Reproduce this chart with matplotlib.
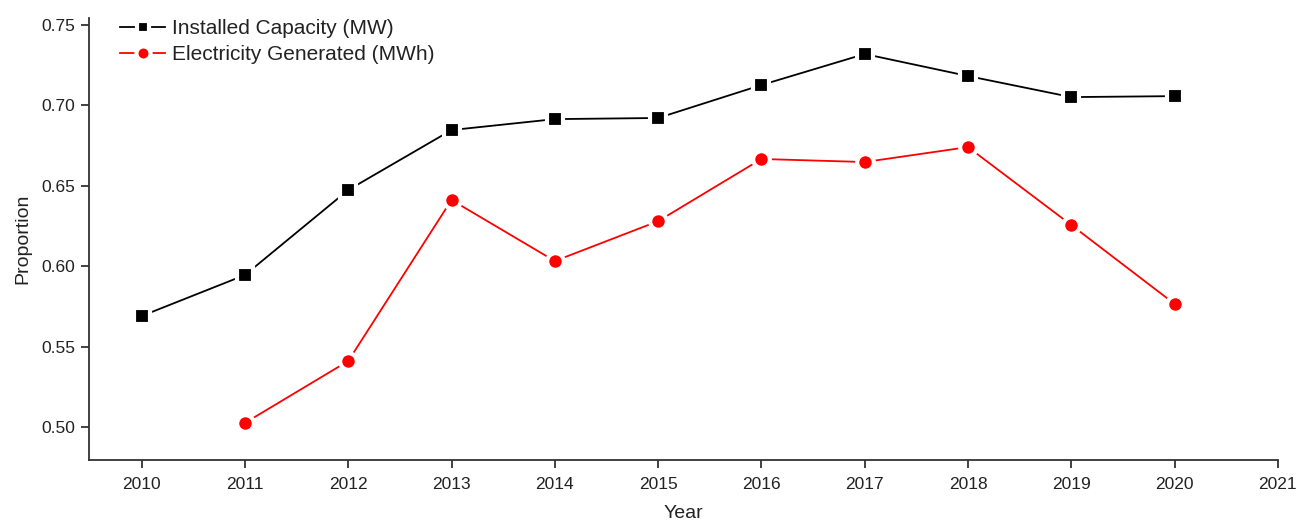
import matplotlib.pyplot as plt

plt.rcParams['font.family'] = ['Liberation Sans', 'DejaVu Sans']

# --- Data ---
years_cap = [2010, 2011, 2012, 2013, 2014, 2015, 2016, 2017, 2018, 2019, 2020]
installed_capacity = [0.569, 0.5945, 0.6474, 0.6847, 0.6915, 0.6922, 0.7127, 0.7320, 0.7183, 0.7052, 0.7058]

years_gen = [2011, 2012, 2013, 2014, 2015, 2016, 2017, 2018, 2019, 2020]
electricity_generated = [0.5025, 0.541, 0.6412, 0.6032, 0.628, 0.6667, 0.6648, 0.6741, 0.6256, 0.5765]

xticks = list(range(2010, 2022))
yticks = [0.50, 0.55, 0.60, 0.65, 0.70, 0.75]

txt = '#222222'

fig = plt.figure(figsize=(13.08, 5.22), dpi=100)
ax = fig.add_axes([0.068, 0.119, 0.909, 0.8465])

ax.plot(years_cap, installed_capacity, color='black', lw=1.3, marker='s', markersize=11,
        markerfacecolor='black', markeredgecolor='white', markeredgewidth=3,
        label='Installed Capacity (MW)')
ax.plot(years_gen, electricity_generated, color='red', lw=1.3, marker='o', markersize=12,
        markerfacecolor='red', markeredgecolor='white', markeredgewidth=3,
        label='Electricity Generated (MWh)')

ax.set_xlim(2009.49, 2021)
ax.set_ylim(0.4795, 0.7544)
ax.set_xticks(xticks)
ax.set_yticks(yticks)
ax.set_yticklabels([f'{v:.2f}' for v in yticks])

for s in ['top', 'right']:
    ax.spines[s].set_visible(False)
for s in ['left', 'bottom']:
    ax.spines[s].set_linewidth(1.3)
    ax.spines[s].set_color('#333333')

ax.tick_params(axis='both', direction='out', length=6, width=1.3, labelsize=12.5,
               color='#333333', labelcolor=txt)
ax.tick_params(axis='x', pad=6)
ax.tick_params(axis='y', pad=4)

ax.set_xlabel('Year', fontsize=14, labelpad=10, color=txt)
ax.set_ylabel('Proportion', fontsize=14, labelpad=7, color=txt)

leg = ax.legend(loc='upper left', bbox_to_anchor=(0.01, 1.04), frameon=False, fontsize=15,
                handlelength=2.2, handletextpad=0.3, labelspacing=0.35, markerscale=0.85)
for t in leg.get_texts():
    t.set_color(txt)

plt.savefig('out.png', dpi=100)
